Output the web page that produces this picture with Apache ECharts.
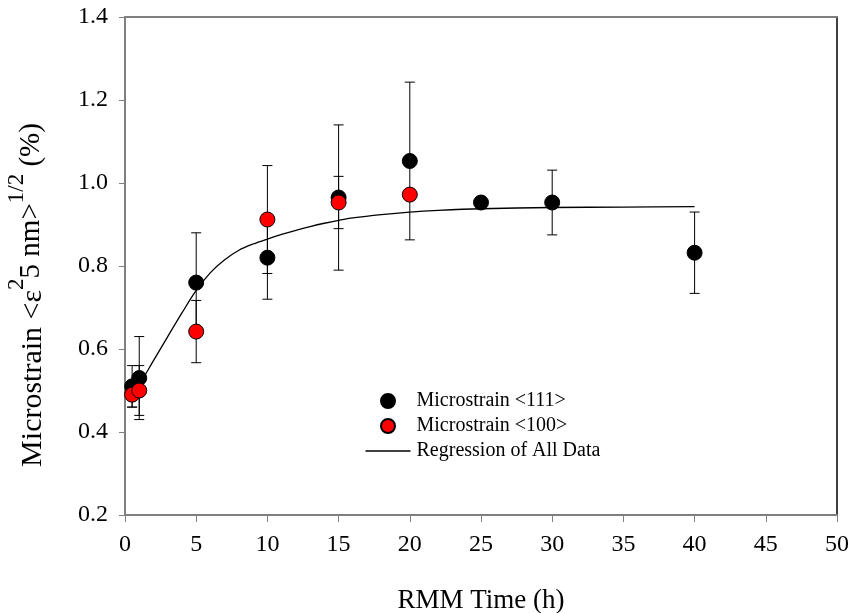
<!DOCTYPE html>
<html>
<head>
<meta charset="utf-8">
<script src="https://cdn.jsdelivr.net/npm/echarts@6/dist/echarts.min.js"></script>
<style>
html,body{margin:0;padding:0;background:#fff;}
#chart{width:853px;height:613px;}
</style>
</head>
<body>
<div id="chart"></div>
<script>
// ---- data ----
var timeBlack = [0.5, 1, 5, 10, 15, 20, 25, 30, 40];
var strain111 = [0.51, 0.53, 0.76, 0.82, 0.965, 1.053, 0.953, 0.953, 0.832];
var err111    = [0.05, 0.10, 0.12, 0.10, 0.175, 0.19, 0, 0.078, 0.098];

var timeRed   = [0.5, 1, 5, 10, 15, 20];
var strain100 = [0.49, 0.50, 0.642, 0.912, 0.953, 0.972];
var err100    = [0.03, 0.06, 0.075, 0.13, 0.063, 0];

var regTime   = [0.5, 1, 2, 3, 4, 5, 6, 7, 8, 9, 10, 11, 12, 13, 14, 15, 16, 18, 20, 22, 25, 30, 35, 40];
var regStrain = [0.49, 0.514, 0.572, 0.630, 0.687, 0.741, 0.784, 0.815, 0.838, 0.853, 0.865, 0.876, 0.886, 0.895, 0.903, 0.910, 0.916, 0.924, 0.930, 0.934, 0.938, 0.941, 0.942, 0.943];

var xTicks = [0, 5, 10, 15, 20, 25, 30, 35, 40, 45, 50];
var yTicks = [0.2, 0.4, 0.6, 0.8, 1.0, 1.2, 1.4];

var names = ['Microstrain <111>', 'Microstrain <100>', 'Regression of All Data'];

function zip(a, b) { return a.map(function (v, i) { return [v, b[i]]; }); }
function errData(x, y, e) {
  var out = [];
  x.forEach(function (v, i) { if (e[i] > 0) out.push([v, y[i] - e[i], y[i] + e[i]]); });
  return out;
}
function errRender(params, api) {
  var x = api.value(0);
  var lo = api.coord([x, api.value(1)]);
  var hi = api.coord([x, api.value(2)]);
  var hw = 5;
  var st = { stroke: '#000', lineWidth: 1 };
  return {
    type: 'group',
    children: [
      { type: 'line', shape: { x1: lo[0], y1: lo[1], x2: hi[0], y2: hi[1] }, style: st },
      { type: 'line', shape: { x1: lo[0] - hw, y1: lo[1], x2: lo[0] + hw, y2: lo[1] }, style: st },
      { type: 'line', shape: { x1: hi[0] - hw, y1: hi[1], x2: hi[0] + hw, y2: hi[1] }, style: st }
    ]
  };
}

var FONT = 'Liberation Serif';
var chart = echarts.init(document.getElementById('chart'), null, { renderer: 'canvas' });

var option = {
  backgroundColor: '#fff',
  animation: false,
  textStyle: { fontFamily: FONT },
  grid: { left: 125, right: 16, top: 17, bottom: 98, containLabel: false, outerBoundsMode: 'none' },
  xAxis: [{
    type: 'value', min: xTicks[0], max: xTicks[xTicks.length - 1], interval: 5,
    name: 'RMM Time (h)', nameLocation: 'middle', nameGap: 72,
    nameTextStyle: { fontFamily: FONT, fontSize: 27, color: '#000' },
    axisLine: { show: true, onZero: false, lineStyle: { color: '#808080', width: 2 } },
    axisTick: { show: true, inside: false, length: 7, lineStyle: { color: '#808080', width: 1 } },
    axisLabel: { fontFamily: FONT, fontSize: 24, color: '#000', margin: 18 },
    splitLine: { show: false }
  }, {
    type: 'value', position: 'top', min: 0, max: 50,
    axisLine: { show: true, onZero: false, lineStyle: { color: '#808080', width: 2 } },
    axisTick: { show: false }, axisLabel: { show: false }, splitLine: { show: false }
  }],
  yAxis: [{
    type: 'value', min: yTicks[0], max: yTicks[yTicks.length - 1], interval: 0.2,
    axisLine: { show: true, onZero: false, lineStyle: { color: '#808080', width: 2 } },
    axisTick: { show: true, inside: false, length: 6, lineStyle: { color: '#808080', width: 1 } },
    axisLabel: { fontFamily: FONT, fontSize: 24, color: '#000', margin: 17,
      formatter: function (v) { return v.toFixed(1); } },
    splitLine: { show: false }
  }, {
    type: 'value', position: 'right', min: 0.2, max: 1.4,
    axisLine: { show: true, onZero: false, lineStyle: { color: '#000', width: 1.5 } },
    axisTick: { show: false }, axisLabel: { show: false }, splitLine: { show: false }
  }],
  legend: {
    orient: 'vertical', left: 360.5, top: 386,
    itemWidth: 45, itemHeight: 14, itemGap: 5,
    data: [
      { name: names[0], icon: 'circle' },
      { name: names[1], icon: 'circle' },
      { name: names[2], icon: 'path://M0,0H45V1.4H0Z' }
    ],
    textStyle: { fontFamily: FONT, fontSize: 20, color: '#000', lineHeight: 20, padding: [0, 0, 0, 1] }
  },
  graphic: [{
    type: 'text',
    x: 33, y: 295,
    rotation: Math.PI / 2,
    style: {
      text: '{n|Microstrain <ε}{sup|2}{m|5 nm>}{sup|1/2}{m| (%)}',
      align: 'center', verticalAlign: 'middle',
      rich: {
        n: { fontFamily: FONT, fontSize: 30, lineHeight: 30, verticalAlign: 'bottom', fill: '#000' },
        m: { fontFamily: FONT, fontSize: 29, lineHeight: 29, padding: [0, 0, 2, 0], verticalAlign: 'bottom', fill: '#000' },
        sup: { fontFamily: FONT, fontSize: 23, lineHeight: 23, padding: [0, 0, 20, 0], verticalAlign: 'bottom', fill: '#000' }
      }
    }
  }],
  series: [
    {
      type: 'custom', name: 'err111', renderItem: errRender,
      data: errData(timeBlack, strain111, err111), z: 1, silent: true,
      encode: { x: 0, y: [1, 2] }
    },
    {
      type: 'custom', name: 'err100', renderItem: errRender,
      data: errData(timeRed, strain100, err100), z: 1, silent: true,
      encode: { x: 0, y: [1, 2] }
    },
    {
      type: 'line', name: names[2], data: zip(regTime, regStrain),
      smooth: 0.3, symbol: 'none', showSymbol: false, z: 2,
      lineStyle: { color: '#000', width: 1.3 }, itemStyle: { color: '#000' }
    },
    {
      type: 'scatter', name: names[0], data: zip(timeBlack, strain111),
      symbol: 'circle', symbolSize: 15, z: 3,
      itemStyle: { color: '#000', borderColor: '#000', borderWidth: 1, opacity: 1 }
    },
    {
      type: 'scatter', name: names[1], data: zip(timeRed, strain100),
      symbol: 'circle', symbolSize: 15, z: 4,
      itemStyle: { color: '#ff0000', borderColor: '#000', borderWidth: 1, opacity: 1 }
    }
  ]
};
chart.setOption(option);
</script>
</body>
</html>
